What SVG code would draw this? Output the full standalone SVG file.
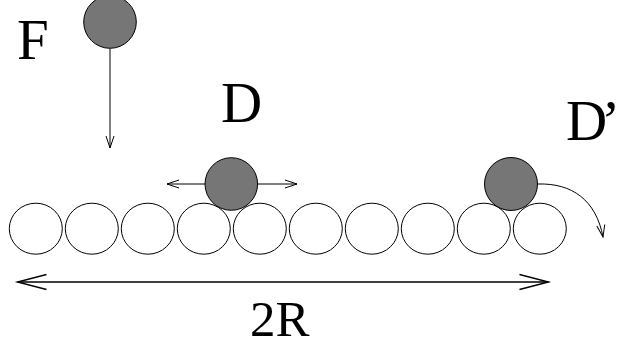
<svg xmlns="http://www.w3.org/2000/svg" width="618" height="347" viewBox="0 0 618 347">
<style>
.row{fill:#fff;stroke:#000;stroke-width:1}
.ball{fill:#767676;stroke:#000;stroke-width:1}
.ln{fill:none;stroke:#000;stroke-width:1}
</style>
<defs>
<marker id="ah" markerUnits="userSpaceOnUse" markerWidth="14" markerHeight="10" refX="12" refY="5" orient="auto-start-reverse" overflow="visible">
<path d="M0,1 L12,5 L0,9" fill="none" stroke="#000" stroke-width="1"/>
</marker>
<marker id="ahb" markerUnits="userSpaceOnUse" markerWidth="31" markerHeight="17" refX="30" refY="8.5" orient="auto-start-reverse" overflow="visible">
<path d="M1,1 L30,8.5 L1,16" fill="none" stroke="#000" stroke-width="1.4"/>
</marker>
</defs>
<rect width="618" height="347" fill="#fff"/>
<g id="row">
<ellipse class="row" cx="35.8" cy="228.7" rx="26.5" ry="25.5"/>
<ellipse class="row" cx="91.8" cy="228.7" rx="26.5" ry="25.5"/>
<ellipse class="row" cx="147.8" cy="228.7" rx="26.5" ry="25.5"/>
<ellipse class="row" cx="203.8" cy="228.7" rx="26.5" ry="25.5"/>
<ellipse class="row" cx="259.8" cy="228.7" rx="26.5" ry="25.5"/>
<ellipse class="row" cx="315.8" cy="228.7" rx="26.5" ry="25.5"/>
<ellipse class="row" cx="371.8" cy="228.7" rx="26.5" ry="25.5"/>
<ellipse class="row" cx="427.8" cy="228.7" rx="26.5" ry="25.5"/>
<ellipse class="row" cx="483.8" cy="228.7" rx="26.5" ry="25.5"/>
<ellipse class="row" cx="539.8" cy="228.7" rx="26.5" ry="25.5"/>
</g>
<g id="ballF"><circle class="ball" cx="110" cy="22" r="26.3"/></g>
<g id="ballD"><circle class="ball" cx="231.3" cy="184" r="26.3"/></g>
<g id="ballD2"><circle class="ball" cx="511" cy="184" r="26.5"/></g>
<g id="connectors">
<line class="ln" x1="110" y1="49" x2="110" y2="148" marker-end="url(#ah)"/>
<line class="ln" x1="205" y1="184" x2="167" y2="184" marker-end="url(#ah)"/>
<line class="ln" x1="258" y1="184" x2="297" y2="184" marker-end="url(#ah)"/>
<path class="ln" d="M538,184 C572,183 596,200 603,237" marker-end="url(#ah)"/>
<line x1="17.5" y1="282" x2="548.5" y2="282" stroke="#000" stroke-width="1.6" marker-start="url(#ahb)" marker-end="url(#ahb)"/>
</g>
<g id="labels" font-family="'Liberation Serif', serif" fill="#000">
<text x="17" y="59" font-size="57">F</text>
<text x="221" y="122" font-size="57">D</text>
<text x="566" y="140" font-size="57" letter-spacing="-6">D’</text>
<text x="250" y="336" font-size="51">2R</text>
</g>
</svg>
